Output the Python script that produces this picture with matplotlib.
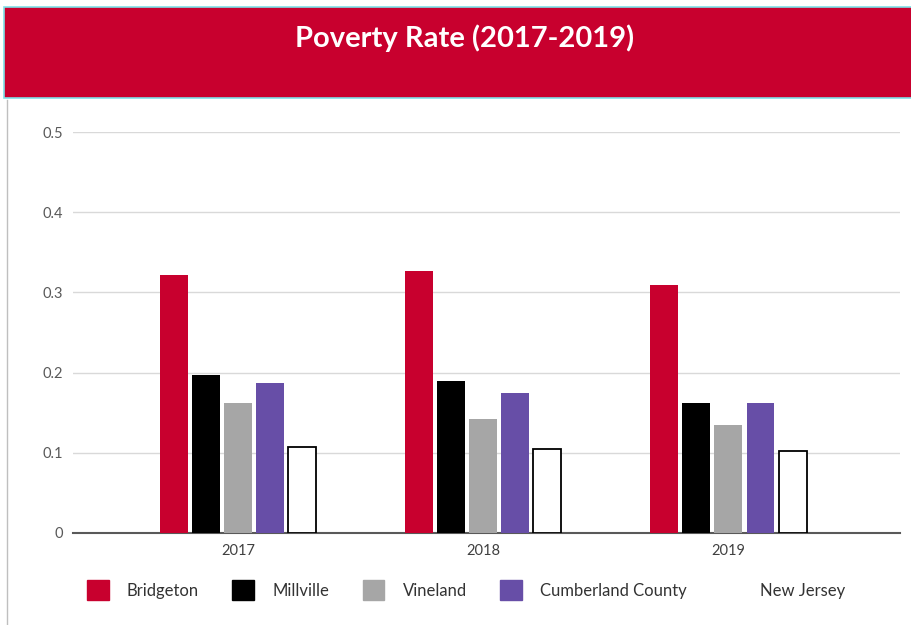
import numpy as np
import matplotlib
matplotlib.use("Agg")
import matplotlib.pyplot as plt
from matplotlib.patches import Patch, Rectangle

plt.rcParams['font.family'] = ['Lato', 'DejaVu Sans']

years = ['2017', '2018', '2019']
places = ['Bridgeton', 'Millville', 'Vineland', 'Cumberland County', 'New Jersey']
bridgeton = [0.322, 0.327, 0.309]
millville = [0.197, 0.190, 0.162]
vineland = [0.162, 0.142, 0.135]
cumberland = [0.187, 0.175, 0.162]
new_jersey = [0.107, 0.105, 0.102]
series = [bridgeton, millville, vineland, cumberland, new_jersey]

fills = ['#C8002E', '#000000', '#A6A6A6', '#674EA7', '#FFFFFF']
edges = ['#C8002E', '#000000', '#A6A6A6', '#674EA7', '#000000']
RED = '#C8002E'

fig = plt.figure(figsize=(9.12, 6.25), dpi=100)

# header band
fig.add_artist(Rectangle((4/912, 1 - 98/625), 1, 91/625, transform=fig.transFigure,
                         facecolor=RED, edgecolor='#7FE0E8', linewidth=1.2))
fig.text(465/912, 1 - 38/625, 'Poverty Rate (2017-2019)', color='white',
         fontsize=21, fontweight='bold', ha='center', va='center')
# thin frame line on the left
fig.add_artist(plt.Line2D([7/912, 7/912], [0, 1 - 100/625], transform=fig.transFigure,
                          color='#BFBFBF', linewidth=1))

ax = fig.add_axes([73/912, 1 - 533/625, (900 - 73)/912, (533 - 132)/625])
x = np.arange(len(years))
width = 0.114
step = 0.131
for i, vals in enumerate(series):
    ax.bar(x + (i - 2) * step, vals, width, color=fills[i], edgecolor=edges[i],
           linewidth=1.3 if i == 4 else 0, label=places[i], zorder=3)

ax.set_ylim(0, 0.5)
ax.set_xlim(-0.673, 2.70)
ax.set_yticks([0, 0.1, 0.2, 0.3, 0.4, 0.5])
ax.set_yticklabels(['0', '0.1', '0.2', '0.3', '0.4', '0.5'])
ax.set_xticks(x)
ax.set_xticklabels(years)
ax.yaxis.grid(True, color='#D9D9D9', linewidth=1, zorder=0)
for s in ['top', 'right', 'left']:
    ax.spines[s].set_visible(False)
ax.spines['bottom'].set_color('#595959')
ax.spines['bottom'].set_linewidth(1.5)
ax.tick_params(axis='y', length=0, pad=7, labelsize=10.5, labelcolor='#595959')
ax.tick_params(axis='x', length=0, pad=8, labelsize=10.5, labelcolor='#404040')

handles = [Patch(facecolor=fills[i], edgecolor='none' if i == 4 else fills[i],
                 label=places[i]) for i in range(5)]
leg = fig.legend(handles=handles, loc='center left', bbox_to_anchor=(87/912, 1 - 590/625),
                 ncol=5, frameon=False, fontsize=12, handlelength=1.3, handleheight=1.45,
                 handletextpad=1.1, columnspacing=2.0, borderpad=0, borderaxespad=0)
for t in leg.get_texts():
    t.set_color('#333333')

fig.savefig('out.png', dpi=100, facecolor='white')
